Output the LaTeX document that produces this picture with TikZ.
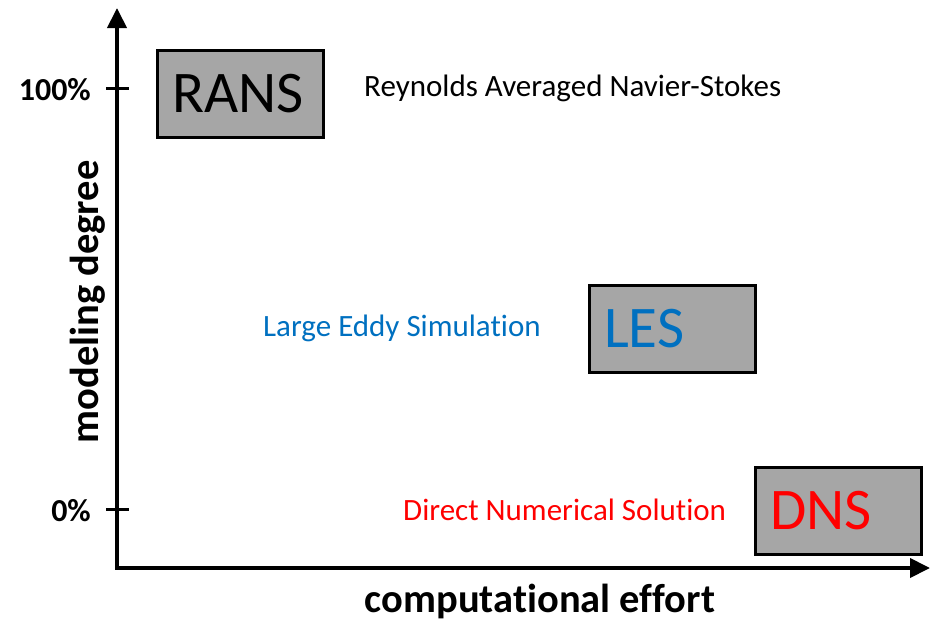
\documentclass[tikz,border=0pt]{standalone}
\usepackage{fontspec}
\setmainfont{Carlito}[Ligatures=NoCommon]
\usetikzlibrary{arrows.meta}
\definecolor{boxgray}{RGB}{166,166,166}
\definecolor{lesblue}{RGB}{0,112,192}

\begin{document}
\begin{tikzpicture}[x=1pt, y=-1pt,
    axis/.style={line width=4pt, -{Triangle[length=20pt, width=19pt]}},
    tickline/.style={line width=3pt},
    model/.style={draw, line width=3pt, fill=boxgray, anchor=north west, minimum width=166pt,
        minimum height=87pt, inner xsep=15pt, inner ysep=0pt, text width=136pt, align=left,
        font=\fontsize{59}{59}\selectfont},
    longname/.style={anchor=west, inner sep=0pt, font=\fontsize{31}{31}\selectfont},
    axislabel/.style={inner sep=0pt, font=\fontsize{40.5}{40.5}\selectfont\bfseries},
    ticklabel/.style={anchor=east, inner sep=0pt, font=\fontsize{32}{32}\selectfont\bfseries}]
    \useasboundingbox (0,0) rectangle (930,621);

    % axes
    \coordinate (O) at (117,568);
    \coordinate (ytop) at (117,8);
    \coordinate (xend) at (930,568);
    \draw[axis] ([yshift=2pt]O) -- (ytop);
    \draw[axis] ([xshift=-2pt]O) -- (xend);
    \node[axislabel] (xlab) at (540,601) {computational effort};
    \node[axislabel, rotate=90] (ylab) at (88,302) {modeling degree};

    % ticks
    \draw[tickline] (106,88) -- (129,88);
    \draw[tickline] (106,509) -- (129,509);
    \node[ticklabel] (full) at (91,90) {100\%};
    \node[ticklabel] (none) at (91,511) {0\%};

    % models
    \node[model] (rans) at (156,48.5) {RANS};
    \node[model, text=lesblue] (les) at (587.5,284) {LES};
    \node[model, text=red] (dns) at (754,466) {DNS};

    \node[longname] (ranstext) at (364,88) {Reynolds Averaged Navier-Stokes};
    \node[longname, text=lesblue] (lestext) at (263,328) {Large Eddy Simulation};
    \node[longname, text=red] (dnstext) at (403,510) {Direct Numerical Solution};
\end{tikzpicture}
\end{document}
